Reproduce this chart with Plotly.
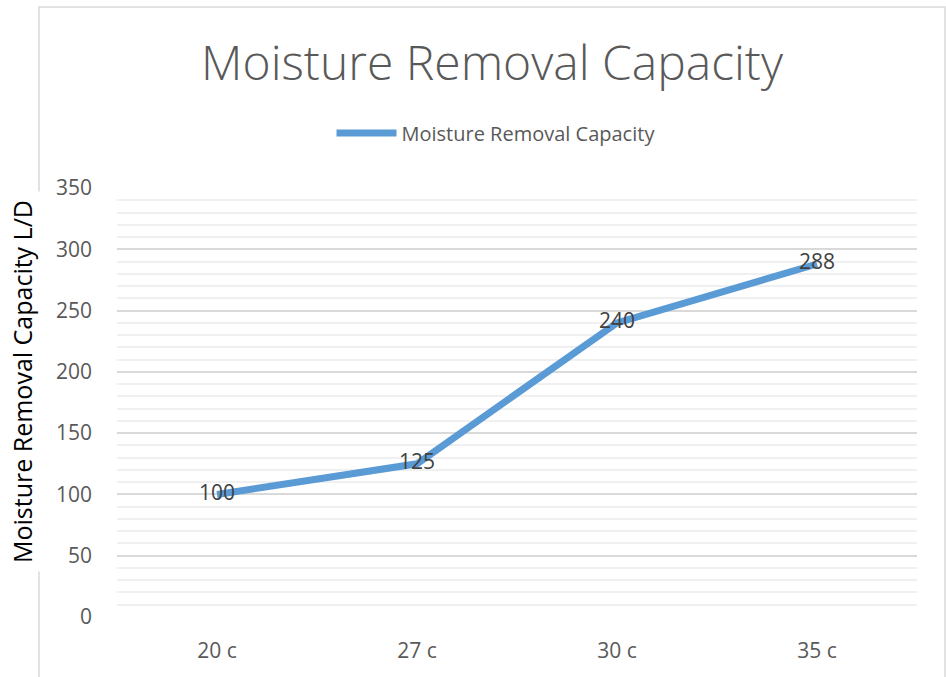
import plotly.graph_objects as go

categories = ["20 c", "27 c", "30 c", "35 c"]
capacity = [100, 125, 240, 288]
y_ticks = [0, 50, 100, 150, 200, 250, 300, 350]

series_name = "Moisture Removal Capacity"
title_text = "Moisture Removal Capacity"
y_title = "Moisture Removal Capacity L/D"

FONT = "Open Sans"
W, H = 946, 677
L, R, T, B = 117, 29, 188, 60
PW, PH = W - L - R, H - T - B

def px_x(px):
    return (px - L) / PW

def px_y(py):
    return (H - B - py) / PH

fig = go.Figure()
fig.add_trace(go.Scatter(
    x=categories, y=capacity, name=series_name,
    mode="lines+text", text=[str(v) for v in capacity],
    textposition="middle center",
    textfont=dict(family=FONT, size=21, color="#404040"),
    line=dict(color="#5B9BD5", width=7),
))

fig.update_layout(
    width=W, height=H,
    margin=dict(l=L, r=R, t=T, b=B),
    paper_bgcolor="white", plot_bgcolor="white",
    font=dict(family=FONT, color="#595959"),
    title=dict(text=title_text, x=492 / W, xanchor="center",
               y=1 - 63 / H, yanchor="middle", yref="container",
               font=dict(family=FONT, size=48, color="#595959", weight=300)),
    showlegend=True,
    legend=dict(orientation="h", x=px_x(496), xanchor="center",
                y=px_y(133), yanchor="middle",
                font=dict(family=FONT, size=20, color="#595959"),
                itemwidth=60),
    xaxis=dict(type="category", range=[-0.5, 3.5], showgrid=False,
               showline=False, zeroline=False, ticks="",
               tickfont=dict(family=FONT, size=21, color="#595959"),
               ticklabelstandoff=19),
    yaxis=dict(range=[0, 350], tickvals=y_ticks, showgrid=True,
               gridcolor="#D9D9D9", gridwidth=1.5, zeroline=False,
               showline=False, ticks="",
               tickfont=dict(family=FONT, size=21, color="#595959"),
               ticklabelstandoff=24,
               minor=dict(dtick=10, showgrid=True, gridcolor="#F0F0F0",
                          gridwidth=1.5)),
    shapes=[dict(type="rect", xref="paper", yref="paper",
                 x0=px_x(39), x1=px_x(945), y0=px_y(720), y1=px_y(7),
                 line=dict(color="#D9D9D9", width=1.5), layer="below")],
    annotations=[dict(text=y_title, xref="paper", yref="paper",
                      x=px_x(22), y=px_y(382), textangle=-90,
                      xanchor="center", yanchor="middle",
                      showarrow=False, bgcolor="white",
                      borderpad=8,
                      font=dict(family=FONT, size=25, color="#000000"))],
)

fig.write_html("out.html", config={"displayModeBar": False},
               post_script="document.body.style.margin='0';")
